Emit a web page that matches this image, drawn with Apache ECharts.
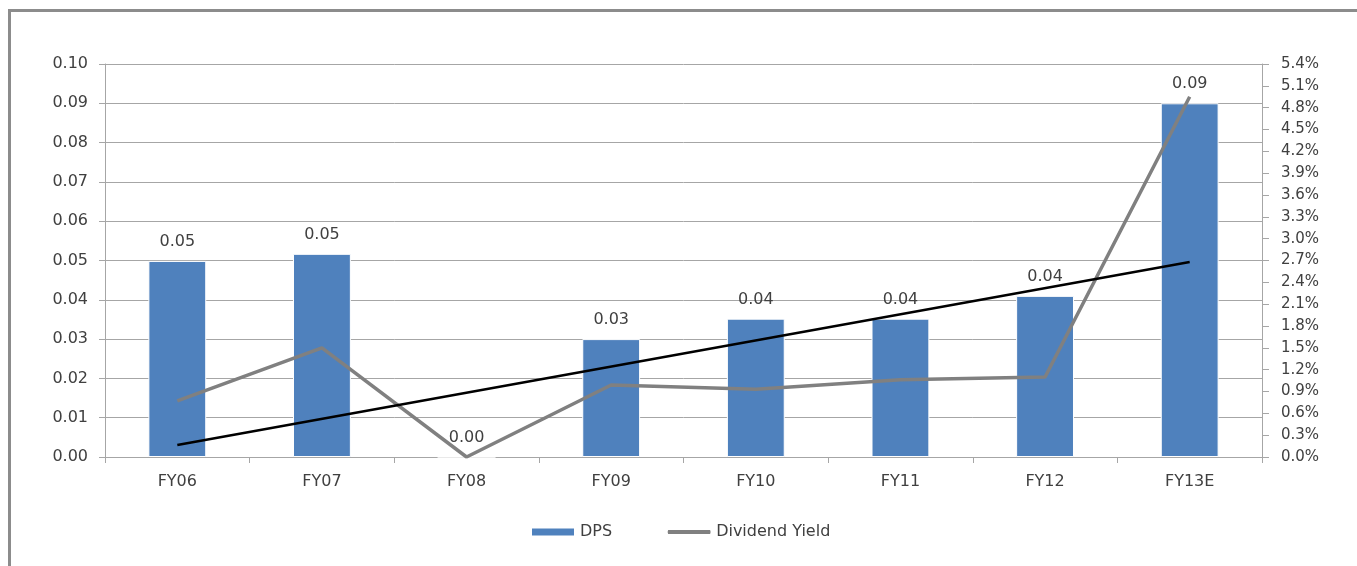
<!DOCTYPE html>
<html>
<head>
<meta charset="utf-8">
<script src="https://cdn.jsdelivr.net/npm/echarts@6/dist/echarts.min.js"></script>
<style>
  html, body { margin: 0; padding: 0; background: #ffffff; }
  #chart { width: 1357px; height: 566px; }
</style>
</head>
<body>
<div id="chart"></div>
<script>
// Fiscal years on the category axis
const categories = ['FY06', 'FY07', 'FY08', 'FY09', 'FY10', 'FY11', 'FY12', 'FY13E'];
// Dividend per share (left axis)
const dps = [0.0499, 0.0517, 0.0, 0.030, 0.0352, 0.0352, 0.041, 0.090];
// Dividend yield in percent (right axis)
const dividendYield = [0.77, 1.50, 0.0, 0.99, 0.93, 1.06, 1.10, 4.95];
// Linear trend of the yield, end points only (joined across the gaps)
const yieldTrend = [0.165, null, null, null, null, null, null, 2.68];

const FONT = 'DejaVu Sans';
const TEXT = '#404040';
const GRID = '#a6a6a6';

// Thin horizontal bar for the line legend icon; the tiny corner specks keep
// the icon box at the full legend item size so the bar stays thin.
const LINE_ICON = 'path://M1,2.6 L43,2.6 Q44,4.5 43,6.4 L1,6.4 Q0,4.5 1,2.6 Z ' +
  'M0,0 L0.05,0 L0,0.05 Z M44,9 L43.95,9 L44,8.95 Z';

const chart = echarts.init(document.getElementById('chart'), null, { renderer: 'canvas' });

chart.setOption({
  animation: false,
  backgroundColor: '#ffffff',
  textStyle: { fontFamily: FONT, color: TEXT },
  graphic: [{
    type: 'rect',
    left: 7, top: 8,
    shape: { width: 1400, height: 600 },
    style: { fill: 'none', stroke: '#8c8c8c', lineWidth: 3 },
    silent: true,
    z: -1
  }],
  grid: { left: 105, right: 95, top: 64, bottom: 109, containLabel: false },
  legend: {
    data: [
      { name: 'DPS', icon: 'rect' },
      { name: 'Dividend Yield', icon: LINE_ICON, itemStyle: { color: '#808080' } }
    ],
    left: 530,
    top: 524,
    padding: 0,
    itemWidth: 44,
    itemHeight: 9,
    itemGap: 55,
    textStyle: { fontFamily: FONT, fontSize: 16, color: TEXT }
  },
  xAxis: {
    type: 'category',
    data: categories,
    boundaryGap: true,
    axisLine: { lineStyle: { color: GRID, width: 1 } },
    axisTick: { show: true, length: 6, lineStyle: { color: GRID } },
    axisLabel: { fontFamily: FONT, fontSize: 16, color: TEXT, margin: 17 }
  },
  yAxis: [{
    type: 'value',
    min: 0, max: 0.1, interval: 0.01,
    position: 'left',
    axisLine: { show: true, lineStyle: { color: GRID } },
    axisTick: { show: true, length: 6, lineStyle: { color: GRID } },
    splitLine: { show: true, lineStyle: { color: GRID, width: 1 } },
    axisLabel: {
      fontFamily: FONT, fontSize: 16, color: TEXT, margin: 17,
      formatter: v => v.toFixed(2)
    }
  }, {
    type: 'value',
    min: 0, max: 5.4, interval: 0.3,
    position: 'right',
    axisLine: { show: true, lineStyle: { color: GRID } },
    axisTick: { show: true, length: 7, lineStyle: { color: GRID } },
    splitLine: { show: false },
    axisLabel: {
      fontFamily: FONT, fontSize: 15, color: TEXT, margin: 19,
      formatter: v => v.toFixed(1) + '%'
    }
  }],
  series: [{
    name: 'DPS',
    type: 'bar',
    data: dps,
    barWidth: '40%',
    itemStyle: { color: '#4f81bd', borderColor: '#ffffff', borderWidth: 1 },
    label: {
      show: true,
      position: 'top',
      distance: 11,
      fontFamily: FONT, fontSize: 16, color: TEXT,
      formatter: p => p.value.toFixed(2)
    },
    z: 2
  }, {
    name: 'Dividend Yield',
    type: 'line',
    yAxisIndex: 1,
    data: dividendYield,
    symbol: 'none',
    lineStyle: { color: '#808080', width: 3.5 },
    itemStyle: { color: '#808080' },
    z: 3
  }, {
    name: 'Yield trend',
    type: 'line',
    yAxisIndex: 1,
    data: yieldTrend,
    connectNulls: true,
    symbol: 'none',
    silent: true,
    lineStyle: { color: '#000000', width: 2.5 },
    z: 4
  }]
});
</script>
</body>
</html>
